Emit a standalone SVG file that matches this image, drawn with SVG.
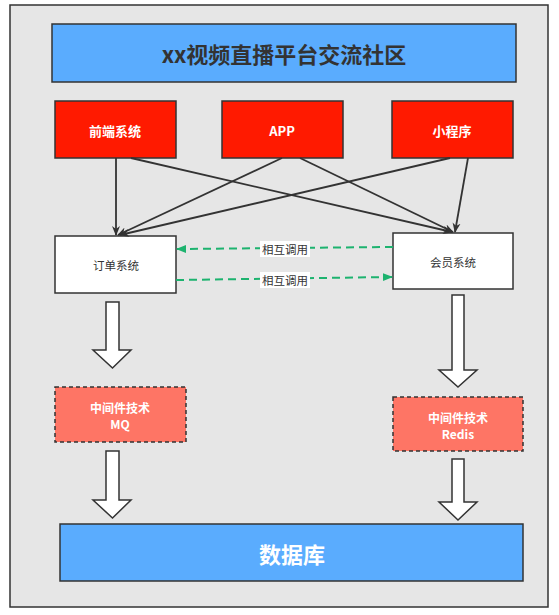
<svg xmlns="http://www.w3.org/2000/svg" width="559" height="615" viewBox="0 0 559 615">
<defs>
<style>
.frame{fill:#e6e6e6;stroke:#333;stroke-width:1.5}
.blue{fill:#5aacfe;stroke:#333;stroke-width:1.5}
.red{fill:#ff1a00;stroke:#333;stroke-width:1.5}
.white{fill:#fff;stroke:#333;stroke-width:1.5}
.salmon{fill:#fe7565;stroke:#333;stroke-width:1.5;stroke-dasharray:4 3}
.barrow{fill:#fff;stroke:#333;stroke-width:1.5;stroke-linejoin:miter}
.ln{stroke:#333;stroke-width:1.8;fill:none}
.gd{stroke:#1db36f;stroke-width:2;fill:none;stroke-dasharray:8 5}
text{font-family:"Noto Sans CJK SC","Noto Sans",sans-serif;text-anchor:middle;dominant-baseline:central}
.t1{font-size:22px;font-weight:bold;fill:#333}
.tw{font-size:13px;font-weight:bold;fill:#fff}
.ts{font-size:12px;font-weight:bold;fill:#fff}
.tn{font-size:11.5px;fill:#333}
.tdb{font-size:22px;font-weight:bold;fill:#fff}
</style>
<marker id="ah" viewBox="0 0 10 10" refX="9" refY="5" markerWidth="10" markerHeight="10" orient="auto" markerUnits="userSpaceOnUse">
<path d="M0,1 L10,5 L0,9 L3,5 z" fill="#333"/>
</marker>
<marker id="gh" viewBox="0 0 10 10" refX="9" refY="5" markerWidth="10" markerHeight="10" orient="auto" markerUnits="userSpaceOnUse">
<path d="M0,1 L10,5 L0,9 z" fill="#1db36f"/>
</marker>
</defs>
<rect class="frame" x="10" y="5" width="538" height="602"/>
<g id="title"><rect class="blue" x="52" y="24" width="464" height="58"/><text class="t1" x="284" y="53">xx视频直播平台交流社区</text></g>
<g id="frontend"><rect class="red" x="55" y="101" width="121" height="57"/><text class="tw" x="115" y="130">前端系统</text></g>
<g id="app"><rect class="red" x="222" y="101" width="121" height="57"/><text class="tw" x="282" y="130">APP</text></g>
<g id="miniprogram"><rect class="red" x="392" y="101" width="121" height="57"/><text class="tw" x="452" y="130">小程序</text></g>
<g id="order"><rect class="white" x="55" y="236" width="121" height="57"/><text class="tn" x="116" y="265">订单系统</text></g>
<g id="member"><rect class="white" x="393" y="233" width="120" height="56"/><text class="tn" x="453" y="262">会员系统</text></g>
<g id="mq"><rect class="salmon" x="55" y="387" width="131" height="55"/><text class="ts" x="120" y="407">中间件技术</text><text class="ts" x="120" y="423">MQ</text></g>
<g id="redis"><rect class="salmon" x="393" y="397" width="130" height="54"/><text class="ts" x="458" y="417">中间件技术</text><text class="ts" x="458" y="433">Redis</text></g>
<g id="database"><rect class="blue" x="60" y="524" width="463" height="57"/><text class="tdb" x="292" y="553">数据库</text></g>
<g id="connectors">
<line class="ln" x1="116" y1="158" x2="116" y2="235" marker-end="url(#ah)"/>
<line class="ln" x1="131" y1="158" x2="452" y2="232" marker-end="url(#ah)"/>
<line class="ln" x1="282" y1="158" x2="118" y2="235" marker-end="url(#ah)"/>
<line class="ln" x1="300" y1="158" x2="453" y2="232" marker-end="url(#ah)"/>
<line class="ln" x1="450" y1="158" x2="120" y2="235" marker-end="url(#ah)"/>
<line class="ln" x1="468" y1="158" x2="455" y2="232" marker-end="url(#ah)"/>
<line class="gd" x1="393" y1="247" x2="177" y2="249" marker-end="url(#gh)"/>
<line class="gd" x1="176" y1="280" x2="392" y2="277" marker-end="url(#gh)"/>
<rect x="260" y="241" width="50" height="16" fill="#fff"/>
<text class="tn" x="285" y="249">相互调用</text>
<rect x="260" y="272" width="50" height="16" fill="#fff"/>
<text class="tn" x="285" y="280">相互调用</text>
<path class="barrow" d="M106,302 H119 V350 H131 L112.5,368 L93,350 H106 Z"/>
<path class="barrow" d="M452,295 H464 V370 H477 L458,387 L439,370 H452 Z"/>
<path class="barrow" d="M106,451 H119 V500 H131 L112.5,518 L93,500 H106 Z"/>
<path class="barrow" d="M452,459 H464 V502 H477 L458,520 L439,502 H452 Z"/>
</g>
</svg>
